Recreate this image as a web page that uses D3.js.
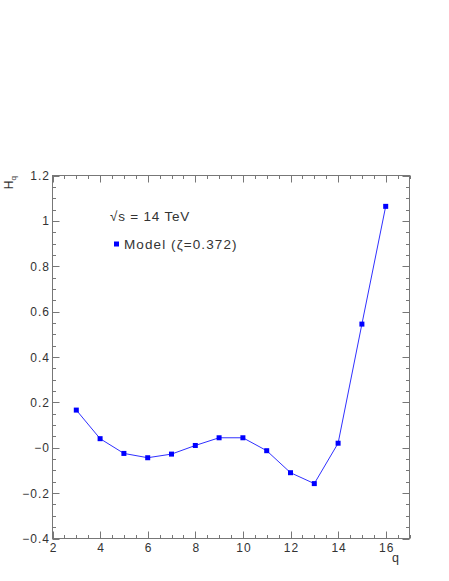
<!DOCTYPE html>
<html><head><meta charset="utf-8">
<script src="https://cdn.jsdelivr.net/npm/d3@7"></script>
<style>body{margin:0;background:#fff}svg{display:block}text{font-family:"Liberation Sans",Arial,sans-serif;fill:#333}</style>
</head><body>
<script>
const qValues = [3,4,5,6,7,8,9,10,11,12,13,14,15,16];
const hqValues = [0.166,0.040,-0.025,-0.044,-0.028,0.010,0.044,0.044,-0.013,-0.110,-0.158,0.020,0.545,1.064];
const xTicks = [2,4,6,8,10,12,14,16];
const yTicks = [-0.4,-0.2,0,0.2,0.4,0.6,0.8,1,1.2];
const yTickLabels = ["\u22120.4","\u22120.2","\u22120","0.2","0.4","0.6","0.8","1","1.2"];
const legendTitle = "\u221As = 14 TeV";
const seriesName = "Model (\u03B6=0.372)";

const W=449,H=581;
const L=52.5,R=409.5,T=175.5,B=538.5;
const svg=d3.select("body").append("svg").attr("width",W).attr("height",H);
const x=d3.scaleLinear().domain([2,17]).range([L,R]);
const y=d3.scaleLinear().domain([-0.4,1.2]).range([B,T]);
const axisCol="#777";

// frame
svg.append("rect").attr("x",L).attr("y",T).attr("width",R-L).attr("height",B-T)
  .attr("fill","none").attr("stroke",axisCol).attr("stroke-width",1);

const xMinor=d3.range(2,17.01,0.5);
const yMinor=d3.range(-0.4,1.2001,0.05);
const g=svg.append("g").attr("stroke",axisCol).attr("stroke-width",1);
xMinor.forEach(v=>{
  const major=Math.abs(v/2-Math.round(v/2))<1e-6;
  const len=major?7:3.5;
  const px=Math.round(x(v))+0.5;
  g.append("line").attr("x1",px).attr("x2",px).attr("y1",B).attr("y2",B-len);
  g.append("line").attr("x1",px).attr("x2",px).attr("y1",T).attr("y2",T+len);
});
yMinor.forEach(v=>{
  const r=v/0.2;
  const major=Math.abs(r-Math.round(r))<1e-6;
  const len=major?7:3.5;
  const py=Math.round(y(v))+0.5;
  g.append("line").attr("x1",L).attr("x2",L+len).attr("y1",py).attr("y2",py);
  g.append("line").attr("x1",R).attr("x2",R-len).attr("y1",py).attr("y2",py);
});

// tick labels
svg.append("g").selectAll("text").data(xTicks).join("text")
  .attr("x",d=>x(d)+1).attr("y",552).attr("text-anchor","middle")
  .attr("font-size",12).attr("letter-spacing",1).text(d=>d);
svg.append("g").selectAll("text").data(yTicks).join("text")
  .attr("x",50).attr("y",d=>y(d)+4.5).attr("text-anchor","end")
  .attr("font-size",12).attr("letter-spacing",1).text((d,i)=>yTickLabels[i]);

// axis titles
const yl=svg.append("text").attr("transform","translate(13,176) rotate(-90)")
  .attr("text-anchor","end").attr("font-size",12);
yl.append("tspan").text("H");
yl.append("tspan").attr("font-size",8).attr("dy",3).text("q");
svg.append("text").attr("x",399).attr("y",562).attr("text-anchor","end")
  .attr("font-size",12.5).text("q");

// line + markers
const line=d3.line().x((d,i)=>x(qValues[i])).y(d=>y(d));
svg.append("path").attr("d",line(hqValues)).attr("fill","none")
  .attr("stroke","#3030ff").attr("stroke-width",1);
const ms=5;
svg.append("g").selectAll("rect").data(hqValues).join("rect")
  .attr("x",(d,i)=>x(qValues[i])-ms/2).attr("y",d=>y(d)-ms/2)
  .attr("width",ms).attr("height",ms).attr("fill","#0000ff");

// legend
svg.append("text").attr("x",110).attr("y",220.5).attr("font-size",13.5)
  .attr("letter-spacing",0.8).text(legendTitle);
svg.append("rect").attr("x",114).attr("y",241.5).attr("width",ms).attr("height",ms).attr("fill","#0000ff");
svg.append("text").attr("x",124).attr("y",249).attr("font-size",13.5)
  .attr("letter-spacing",1.1).text(seriesName);
</script>
</body></html>
